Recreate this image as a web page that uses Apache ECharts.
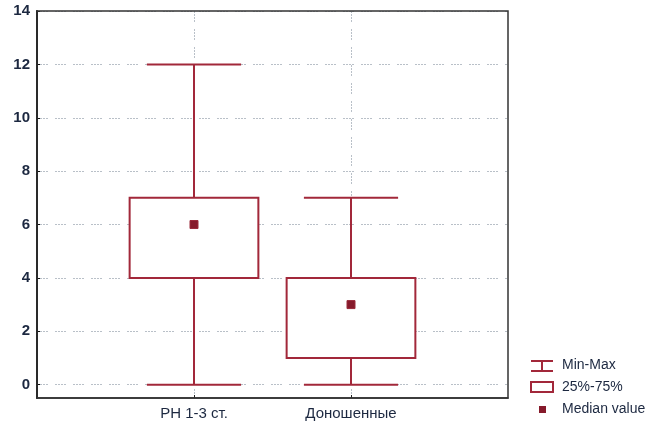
<!DOCTYPE html>
<html>
<head>
<meta charset="utf-8">
<script src="https://cdn.jsdelivr.net/npm/echarts@6/dist/echarts.min.js"></script>
<style>
  html, body { margin: 0; padding: 0; background: #fff; }
  #chart { width: 659px; height: 426px; }
</style>
</head>
<body>
<div id="chart"></div>
<script>
// Groups along the x axis (padded with empty slots on both sides)
const categories = ['', 'РН 1-3 ст.', 'Доношенные', ''];
// Per-group statistics
const minValues = [0, 0];
const q1Values = [4, 1];
const medianValues = [6, 3];
const q3Values = [7, 4];
const maxValues = [12, 7];
// Y axis ticks
const yTicks = [0, 2, 4, 6, 8, 10, 12, 14];

const RED = '#a2283a';
const DARK_RED = '#861a2b';
const TEXT = '#1c2840';
const FONT = '"Liberation Sans", Arial, sans-serif';

const boxData = minValues.map((v, i) =>
  [i + 1, minValues[i], q1Values[i], medianValues[i], q3Values[i], maxValues[i]]);

const chart = echarts.init(document.getElementById('chart'), null, { renderer: 'canvas' });

function renderWhisker(params, api) {
  const x = api.value(0);
  const pMin = api.coord([x, api.value(1)]);
  const pQ1 = api.coord([x, api.value(2)]);
  const pQ3 = api.coord([x, api.value(4)]);
  const pMax = api.coord([x, api.value(5)]);
  const unit = api.size([1, 0])[0];
  const capHalf = unit * 0.3;
  const style = { stroke: RED, lineWidth: 2, fill: null };
  return {
    type: 'group',
    children: [
      { type: 'line', shape: { x1: pMin[0], y1: pMin[1], x2: pQ1[0], y2: pQ1[1] }, style },
      { type: 'line', shape: { x1: pQ3[0], y1: pQ3[1], x2: pMax[0], y2: pMax[1] }, style },
      { type: 'line', shape: { x1: pMin[0] - capHalf, y1: pMin[1], x2: pMin[0] + capHalf, y2: pMin[1] }, style },
      { type: 'line', shape: { x1: pMax[0] - capHalf, y1: pMax[1], x2: pMax[0] + capHalf, y2: pMax[1] }, style }
    ]
  };
}

function renderBox(params, api) {
  const x = api.value(0);
  const pQ1 = api.coord([x, api.value(2)]);
  const pQ3 = api.coord([x, api.value(4)]);
  const unit = api.size([1, 0])[0];
  const half = unit * 0.41;
  return {
    type: 'rect',
    shape: { x: pQ1[0] - half, y: pQ3[1], width: half * 2, height: pQ1[1] - pQ3[1] },
    style: { stroke: RED, lineWidth: 2, fill: '#fff' }
  };
}

function renderMedian(params, api) {
  const x = api.value(0);
  const p = api.coord([x, api.value(3)]);
  const s = 8;
  return {
    type: 'rect',
    shape: { x: p[0] - s / 2, y: p[1] - s / 2, width: s, height: s },
    style: { fill: DARK_RED, stroke: '#9a2a3a', lineWidth: 1 }
  };
}

const gridStyle = { color: '#b9c0c8', width: 1, type: [2, 1, 2, 1, 2, 1, 2, 7] };

const legendX = 531, textX = 562;
const legendText = (y, t) => ({
  type: 'text', left: textX, top: y - 8,
  style: { text: t, fill: TEXT, font: '14px ' + FONT }
});

chart.setOption({
  animation: false,
  backgroundColor: '#fff',
  grid: {
    left: 37, top: 11, right: 151, bottom: 28,
    show: false
  },
  xAxis: {
    type: 'category',
    data: categories,
    boundaryGap: false,
    axisLine: { show: true, onZero: false, lineStyle: { color: '#222', width: 1.5 } },
    axisTick: { show: true, inside: true, length: 3, lineStyle: { color: '#222' },
      interval: (i) => i === 1 || i === 2 },
    axisLabel: { color: TEXT, fontSize: 15, margin: 8, interval: 0, fontFamily: FONT },
    splitLine: { show: true, lineStyle: gridStyle, interval: (i) => i === 1 || i === 2 }
  },
  yAxis: {
    type: 'value',
    min: -0.5,
    max: 14,
    interval: 2,
    axisLine: { show: true, lineStyle: { color: '#111', width: 2 } },
    axisLabel: {
      color: TEXT, fontSize: 15, fontWeight: 'bold', margin: 7, fontFamily: FONT,
      customValues: yTicks
    },
    axisTick: { show: true, inside: true, length: 3, customValues: yTicks, lineStyle: { color: '#111' } },
    splitLine: { show: true, lineStyle: gridStyle }
  },
  series: [
    { name: 'Min-Max', type: 'custom', renderItem: renderWhisker, data: boxData, z: 3 },
    { name: '25%-75%', type: 'custom', renderItem: renderBox, data: boxData, z: 4 },
    { name: 'Median value', type: 'custom', renderItem: renderMedian, data: boxData, z: 5 }
  ],
  graphic: [
    // plot frame on top of the grid lines
    { type: 'rect', z: 100, shape: { x: 37, y: 11, width: 471, height: 387 },
      style: { fill: null, stroke: '#333', lineWidth: 1.5 } },
    // Min-Max key
    { type: 'line', shape: { x1: legendX, y1: 361, x2: legendX + 22, y2: 361 }, style: { stroke: RED, lineWidth: 2 } },
    { type: 'line', shape: { x1: legendX + 11, y1: 361, x2: legendX + 11, y2: 371 }, style: { stroke: RED, lineWidth: 2 } },
    { type: 'line', shape: { x1: legendX, y1: 371, x2: legendX + 22, y2: 371 }, style: { stroke: RED, lineWidth: 2 } },
    legendText(366, 'Min-Max'),
    // Quartile box key
    { type: 'rect', shape: { x: legendX, y: 382, width: 22, height: 10 }, style: { stroke: RED, lineWidth: 2, fill: '#fff' } },
    legendText(388, '25%-75%'),
    // Median key
    { type: 'rect', shape: { x: legendX + 8, y: 406, width: 7, height: 7 }, style: { fill: DARK_RED } },
    legendText(410, 'Median value')
  ]
});
</script>
</body>
</html>
